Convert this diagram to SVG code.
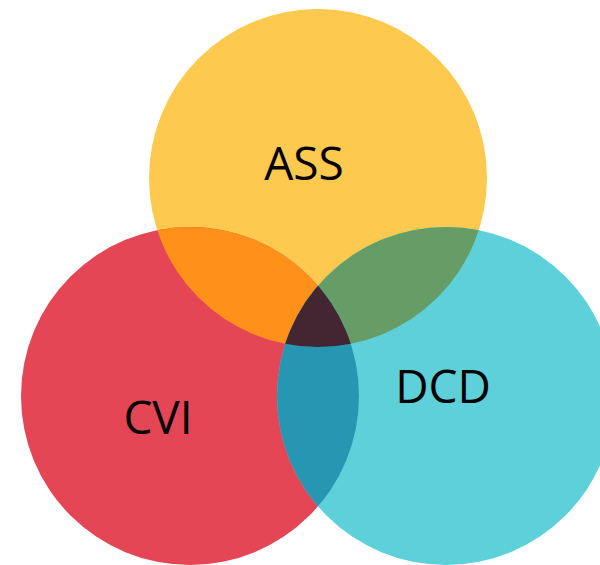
<svg xmlns="http://www.w3.org/2000/svg" width="600" height="565" viewBox="0 0 600 565">
<style>
.lbl{font-family:"Open Sans","Liberation Sans",sans-serif;font-size:46px;fill:#000;text-anchor:middle}
</style>
<defs>
<clipPath id="cY"><circle cx="318" cy="178" r="169"/></clipPath>
<clipPath id="cR"><circle cx="190" cy="396" r="169"/></clipPath>
<clipPath id="cT"><circle cx="446" cy="396" r="169"/></clipPath>
</defs>
<rect width="600" height="565" fill="#fff"/>
<g id="ass"><circle cx="318" cy="178" r="169" fill="#FDC94F"/></g>
<g id="cvi"><circle cx="190" cy="396" r="169" fill="#E44656"/></g>
<g id="dcd"><circle cx="446" cy="396" r="169" fill="#5ED0DA"/></g>
<g id="overlaps">
<g clip-path="url(#cY)"><circle cx="190" cy="396" r="169" fill="#FF9019"/><circle cx="446" cy="396" r="169" fill="#669D66"/></g>
<g clip-path="url(#cR)"><circle cx="446" cy="396" r="169" fill="#2796B3"/></g>
<g clip-path="url(#cY)"><g clip-path="url(#cR)"><circle cx="446" cy="396" r="169" fill="#432631"/></g></g>
</g>
<g id="labels">
<text class="lbl" x="304" y="180">ASS</text>
<text class="lbl" x="158" y="434">CVI</text>
<text class="lbl" x="443" y="403">DCD</text>
</g>
</svg>
